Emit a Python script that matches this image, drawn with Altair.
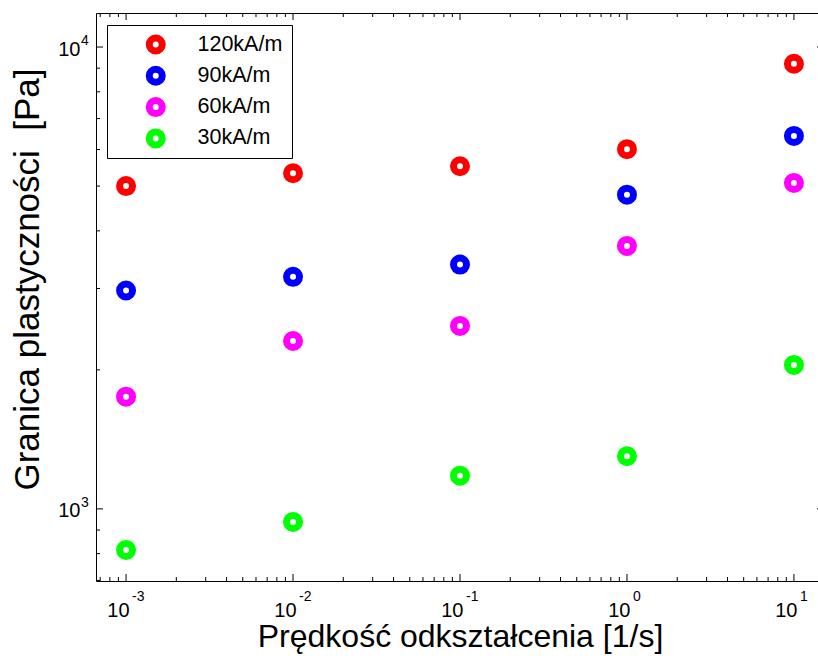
import altair as alt
import pandas as pd

FONT = "Liberation Sans"

# ---- data ----
rates = [1e-3, 1e-2, 1e-1, 1e0, 1e1]
series = ["120kA/m", "90kA/m", "60kA/m", "30kA/m"]
colors = ["#FF0000", "#0000FF", "#FF00FF", "#00FF00"]
y120 = [5000, 5330, 5520, 6010, 9200]
y90 = [2970, 3180, 3380, 4790, 6420]
y60 = [1750, 2310, 2490, 3710, 5080]
y30 = [815, 937, 1180, 1300, 2050]

x_tick_values = [1e-3, 1e-2, 1e-1, 1e0, 1e1]
x_tick_exponents = ["-3", "-2", "-1", "0", "1"]
y_tick_values = [1e3, 1e4]
y_tick_exponents = ["3", "4"]

x_title = "Prędkość odkształcenia [1/s]"
y_title = "Granica plastyczności \u00a0[Pa]"

x_domain = [10 ** -3.18, 10 ** 1.18]
y_domain = [698, 11850]

W, H = 728, 568
MAJ, MIN = 7, 4

rows = []
for name, vals in zip(series, [y120, y90, y60, y30]):
    for r, v in zip(rates, vals):
        rows.append({"rate": r, "value": v, "series": name})
df = pd.DataFrame(rows)

x_minor = [m * 10.0 ** e for e in range(-4, 2) for m in range(2, 10)
           if x_domain[0] <= m * 10.0 ** e <= x_domain[1]]
y_minor = [m * 10.0 ** e for e in range(2, 5) for m in range(2, 10)
           if y_domain[0] <= m * 10.0 ** e <= y_domain[1]]

xscale = alt.Scale(type="log", domain=x_domain, nice=False)
yscale = alt.Scale(type="log", domain=y_domain, nice=False)

xaxis = alt.Axis(
    values=x_tick_values, labelExpr="'10'", labelAlign="right", labelOffset=3,
    labelBaseline="alphabetic", labelPadding=35, labelFontSize=20, labelFont=FONT,
    labelColor="black", labelFlush=False, labelOverlap=False,
    ticks=False, tickSize=0, domain=False, grid=False,
    title=x_title, titleFont=FONT, titleFontSize=32,
    titleFontWeight="normal", titleColor="black", titleBaseline="alphabetic", titleY=65,
)
yaxis = alt.Axis(
    values=y_tick_values, labelExpr="'10'", labelAlign="right", labelPadding=16,
    labelBaseline="alphabetic", labelOffset=8, labelFontSize=20, labelFont=FONT,
    labelColor="black", labelFlush=False, labelOverlap=False,
    ticks=False, tickSize=0, domain=False, grid=False,
    title=y_title, titleFont=FONT, titleFontSize=35,
    titleFontWeight="normal", titleColor="black", titleAngle=270, titleBaseline="alphabetic",
    titleAlign="center", titleX=-58, titleY=266,
)

points = alt.Chart(df).mark_point(
    filled=False, shape="circle", size=169, strokeWidth=7, opacity=1
).encode(
    x=alt.X("rate:Q", scale=xscale, axis=xaxis),
    y=alt.Y("value:Q", scale=yscale, axis=yaxis),
    color=alt.Color(
        "series:N", sort=series, scale=alt.Scale(domain=series, range=colors),
        legend=alt.Legend(
            title=None, orient="none", legendX=11, legendY=12,
            strokeColor="black", fillColor="white", padding=9, symbolOffset=29,
            symbolSize=169, symbolStrokeWidth=7, symbolType="circle",
            labelFontSize=21.5, labelFont=FONT, labelColor="black", labelOffset=31,
            rowPadding=9.3, clipHeight=21,
        ),
    ),
)

xt_major = pd.DataFrame({"v": x_tick_values})
xt_minor = pd.DataFrame({"v": x_minor})
yt_major = pd.DataFrame({"v": y_tick_values})
yt_minor = pd.DataFrame({"v": y_minor})


def xticks(data, length):
    base = alt.Chart(data).mark_rule(color="black", strokeWidth=1)
    xe = alt.X("v:Q", scale=xscale, axis=xaxis)
    return [
        base.encode(x=xe, y=alt.value(H), y2=alt.value(H - length)),
        base.encode(x=xe, y=alt.value(0), y2=alt.value(length)),
    ]


def yticks(data, length):
    base = alt.Chart(data).mark_rule(color="black", strokeWidth=1)
    ye = alt.Y("v:Q", scale=yscale, axis=yaxis)
    return [
        base.encode(y=ye, x=alt.value(0), x2=alt.value(length)),
        base.encode(y=ye, x=alt.value(W), x2=alt.value(W - length)),
    ]


x_exp = alt.Chart(pd.DataFrame({"v": x_tick_values, "e": x_tick_exponents})).mark_text(
    align="left", baseline="alphabetic", dx=6, fontSize=14, font=FONT, color="black"
).encode(x=alt.X("v:Q", scale=xscale, axis=xaxis), y=alt.value(H + 20), text="e:N")

y_exp = alt.Chart(pd.DataFrame({"v": y_tick_values, "e": y_tick_exponents})).mark_text(
    align="left", baseline="alphabetic", dy=-2, fontSize=14, font=FONT, color="black"
).encode(y=alt.Y("v:Q", scale=yscale, axis=yaxis), x=alt.value(-15), text="e:N")

layers = [points] + (xticks(xt_major, MAJ) + xticks(xt_minor, MIN)
                     + yticks(yt_major, MAJ) + yticks(yt_minor, MIN) + [x_exp, y_exp])

chart = alt.layer(*layers).properties(
    width=W, height=H,
    autosize=alt.AutoSizeParams(type="none"),
    padding={"left": 96, "top": 13, "right": -6, "bottom": 79},
    background="white",
).configure_view(stroke="black", strokeWidth=1)

chart.save("out.html", embed_options={"renderer": "svg", "actions": False})
